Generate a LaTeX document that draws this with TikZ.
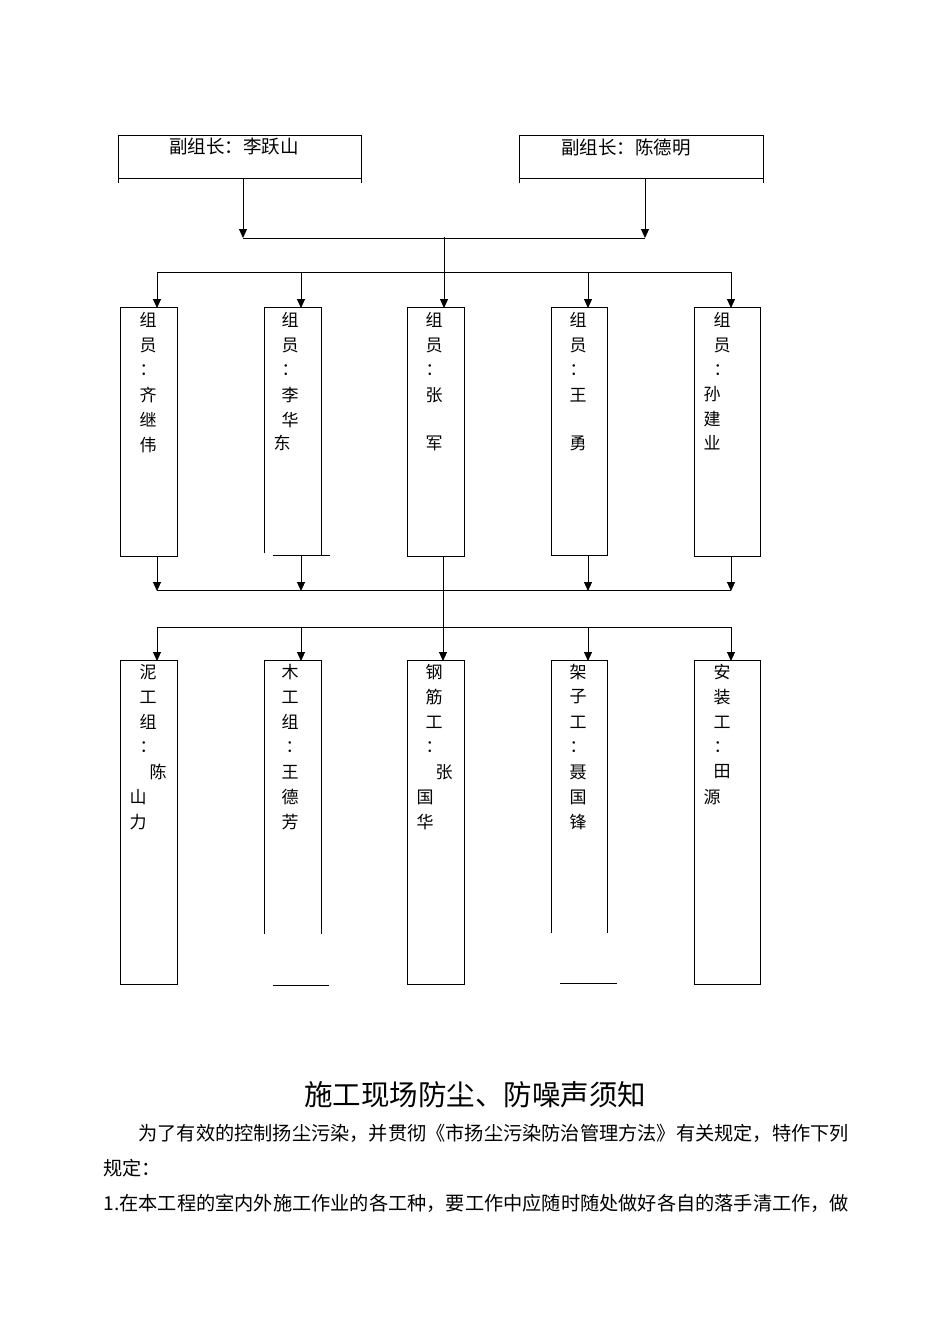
\documentclass[tikz,border=0pt]{standalone}
\usepackage{fontspec}
\setmainfont{Noto Sans CJK SC}
\newfontfamily\cjk{Noto Sans CJK SC}
\usetikzlibrary{arrows.meta}
\begin{document}
\begin{tikzpicture}[x=1pt,y=-1pt,line width=0.9pt,
  arr/.style={-{Triangle[length=9pt,width=8pt]}},
  ch/.style={font=\fontsize{17}{17}\selectfont,inner sep=0pt},
  hd/.style={font=\fontsize{18.5}{18.5}\selectfont,inner sep=0pt},
  para/.style={inner sep=0pt,anchor=west,font=\fontsize{19.2}{19.2}\selectfont}]
\useasboundingbox (0,0) rectangle (950,1344);
% top boxes
\draw (118,183) -- (118,135) -- (361,135) -- (361,183);
\draw (118,178) -- (361,178);
\node[hd] (t1) at (234,147) {副组长：李跃山};
\draw (519,183) -- (519,135) -- (763,135) -- (763,183);
\draw (519,178) -- (763,178);
\node[hd] (t2) at (626,147) {副组长：陈德明};
\coordinate (a1) at (243,178); \coordinate (a2) at (645,178);
\coordinate (h1) at (243,238); \coordinate (h2) at (645,238);
\draw[arr] (a1) -- (h1);
\draw[arr] (a2) -- (h2);
\draw (h1) -- (h2);
\coordinate (c0) at (444,237);
% row 2 connector
\coordinate (r1) at (157,272); \coordinate (r5) at (731,272);
\draw (r1) -- (r5);
\draw[arr] (c0) -- (444,308);
\foreach \x in {157,301,588,731} \draw[arr] (\x,272) -- (\x,308);
% member boxes
\draw (120,307) rectangle (177,556);
\draw (264,553) -- (264,307) -- (321,307) -- (321,556); \draw (273,555) -- (330,555);
\draw (407,307) rectangle (464,556);
\draw (551,307) rectangle (607,555);
\draw (694,307) rectangle (760,556);
% member texts
\foreach \c [count=\i] in {组,员,：,齐,继,伟} \node[ch] at (148,295+25*\i) {\c};
\foreach \c [count=\i] in {组,员,：,李,华} \node[ch] at (290,295+25*\i) {\c};
\node[ch] at (282,443) {东};
\foreach \c [count=\i] in {组,员,：,张} \node[ch] at (434,295+25*\i) {\c};
\node[ch] at (434,443) {军};
\foreach \c [count=\i] in {组,员,：,王} \node[ch] at (578,295+25*\i) {\c};
\node[ch] at (578,443) {勇};
\foreach \c [count=\i] in {组,员,：} \node[ch] at (722,295+25*\i) {\c};
\node[ch] at (712,394) {孙}; \node[ch] at (712,419) {建}; \node[ch] at (712,443) {业};
% second connectors
\foreach \x in {157,301,588,731} \draw[arr] (\x,556) -- (\x,591);
\draw (157,590) -- (731,590);
\draw (157,627) -- (731,627);
\draw[arr] (443,556) -- (443,661);
\foreach \x in {157,301,588,731} \draw[arr] (\x,627) -- (\x,661);
% bottom boxes
\draw (120,660) rectangle (177,984);
\draw (264,934) -- (264,660) -- (321,660) -- (321,934); \draw (273,985) -- (329,985);
\draw (407,660) rectangle (464,984);
\draw (551,933) -- (551,660) -- (607,660) -- (607,933); \draw (560,983) -- (617,983);
\draw (694,660) rectangle (760,984);
\foreach \c [count=\i] in {泥,工,组,：} \node[ch] at (148,647+25*\i) {\c};
\node[ch] at (158,772) {陈}; \node[ch] at (138,797) {山}; \node[ch] at (138,822) {力};
\foreach \c [count=\i] in {木,工,组} \node[ch] at (290,647+25*\i) {\c};
\node[ch] at (294,747) {：}; \node[ch] at (290,772) {王}; \node[ch] at (290,797) {德}; \node[ch] at (290,822) {芳};
\foreach \c [count=\i] in {钢,筋,工,：} \node[ch] at (434,647+25*\i) {\c};
\node[ch] at (444,772) {张}; \node[ch] at (425,797) {国}; \node[ch] at (425,822) {华};
\foreach \c [count=\i] in {架,子,工,：,聂,国,锋} \node[ch] at (578,647+25*\i) {\c};
\foreach \c [count=\i] in {安,装,工,：} \node[ch] at (722,647+25*\i) {\c};
\node[ch] at (722,772) {田}; \node[ch] at (712,797) {源};
% text
\node[inner sep=0pt,font=\fontsize{28.5}{28.5}\selectfont] (title) at (475,1095) {施工现场防尘、防噪声须知};
\node[para] (p1) at (138,1133) {为了有效的控制扬尘污染，并贯彻《市扬尘污染防治管理方法》有关规定，特作下列};
\node[para] (p2) at (103,1168) {规定：};
\node[para] (p3) at (103,1203) {1.在本工程的室内外施工作业的各工种，要工作中应随时随处做好各自的落手清工作，做};
\end{tikzpicture}
\end{document}
